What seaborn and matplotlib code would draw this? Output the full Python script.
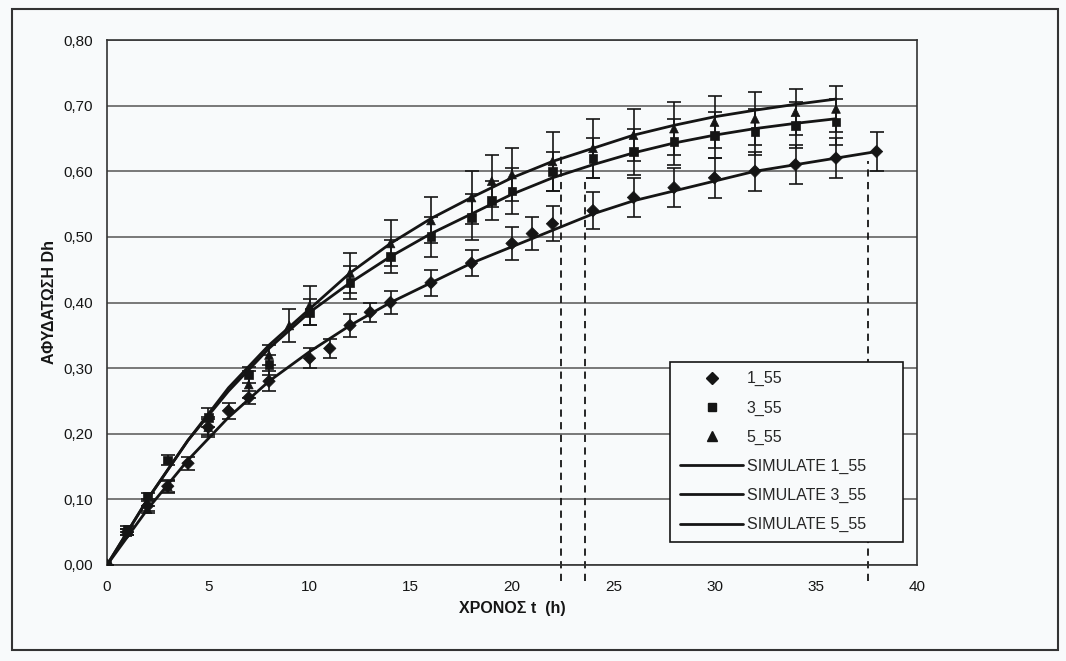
import numpy as np
import pandas as pd
import matplotlib
matplotlib.use("Agg")
import matplotlib.pyplot as plt
from matplotlib.lines import Line2D
from matplotlib.patches import Rectangle
from matplotlib.ticker import FuncFormatter, MultipleLocator
import seaborn as sns

# ---------------- data ----------------
t1 = [0, 1, 2, 3, 4, 5, 6, 7, 8, 10, 11, 12, 13, 14, 16, 18, 20, 21, 22, 24, 26, 28, 30, 32, 34, 36, 38]
d1 = [0, 0.05, 0.09, 0.12, 0.155, 0.21, 0.235, 0.255, 0.28, 0.315, 0.33, 0.365, 0.385, 0.40, 0.43, 0.46,
      0.49, 0.505, 0.52, 0.54, 0.56, 0.575, 0.59, 0.60, 0.61, 0.62, 0.63]
e1 = [0, 0.005, 0.008, 0.01, 0.01, 0.012, 0.012, 0.01, 0.015, 0.015, 0.015, 0.018, 0.015, 0.018, 0.02, 0.02,
      0.025, 0.025, 0.027, 0.028, 0.03, 0.03, 0.03, 0.03, 0.03, 0.03, 0.03]

t3 = [0, 1, 2, 3, 5, 7, 8, 10, 12, 14, 16, 18, 19, 20, 22, 24, 26, 28, 30, 32, 34, 36]
d3 = [0, 0.055, 0.105, 0.16, 0.225, 0.29, 0.305, 0.385, 0.43, 0.47, 0.50, 0.53, 0.555, 0.57, 0.60, 0.62,
      0.63, 0.645, 0.655, 0.66, 0.67, 0.675]
e3 = [0, 0.005, 0.005, 0.008, 0.015, 0.012, 0.015, 0.02, 0.025, 0.025, 0.03, 0.035, 0.03, 0.035, 0.03, 0.03,
      0.035, 0.035, 0.035, 0.035, 0.035, 0.035]

t5 = [0, 1, 2, 3, 5, 7, 8, 9, 10, 12, 14, 16, 18, 19, 20, 22, 24, 26, 28, 30, 32, 34, 36]
d5 = [0, 0.05, 0.085, 0.12, 0.21, 0.275, 0.32, 0.365, 0.395, 0.445, 0.49, 0.525, 0.56, 0.585, 0.595, 0.615,
      0.635, 0.655, 0.665, 0.675, 0.68, 0.69, 0.695]
e5 = [0, 0.005, 0.005, 0.008, 0.015, 0.02, 0.015, 0.025, 0.03, 0.03, 0.035, 0.035, 0.04, 0.04, 0.04, 0.045,
      0.045, 0.04, 0.04, 0.04, 0.04, 0.035, 0.035]

ts1 = [0, 2, 4, 6, 8, 10, 12, 14, 16, 18, 20, 22, 24, 26, 28, 30, 32, 34, 36, 38]
s1 = [0, 0.085, 0.16, 0.225, 0.28, 0.325, 0.365, 0.40, 0.43, 0.46, 0.485, 0.51, 0.535, 0.555, 0.57,
      0.585, 0.60, 0.61, 0.62, 0.63]
ts3 = [0, 2, 4, 6, 8, 10, 12, 14, 16, 18, 20, 22, 24, 26, 28, 30, 32, 34, 36]
s3 = [0, 0.10, 0.19, 0.265, 0.33, 0.385, 0.43, 0.47, 0.505, 0.535, 0.565, 0.59, 0.61, 0.628, 0.643,
      0.655, 0.665, 0.673, 0.68]
ts5 = [0, 2, 4, 6, 8, 10, 12, 14, 16, 18, 20, 22, 24, 26, 28, 30, 32, 34, 36]
s5 = [0, 0.10, 0.19, 0.27, 0.335, 0.39, 0.445, 0.49, 0.528, 0.56, 0.59, 0.615, 0.635, 0.655, 0.67,
      0.683, 0.693, 0.702, 0.71]

dash_t = [22.4, 23.6, 37.6]
dash_top = [0.625, 0.585, 0.615]
dash_bottom = -0.025

xticks = [0, 5, 10, 15, 20, 25, 30, 35, 40]
yticks = [0.0, 0.1, 0.2, 0.3, 0.4, 0.5, 0.6, 0.7, 0.8]

series_names = ["1_55", "3_55", "5_55"]
sim_names = ["SIMULATE 1_55", "SIMULATE 3_55", "SIMULATE 5_55"]

# ---------------- style ----------------
sns.set_style("white")
plt.rcParams['font.family'] = ['Liberation Sans', 'DejaVu Sans']
BG = "#f8fafb"
INK = "#151515"

fig = plt.figure(figsize=(10.66, 6.61), dpi=100, facecolor=BG)
ax = fig.add_axes([107/1066, 1-565/661, (917-107)/1066, (565-40)/661])
ax.set_facecolor(BG)

# simulated curves
sim = pd.concat([
    pd.DataFrame({"t": ts1, "D": s1, "name": sim_names[0]}),
    pd.DataFrame({"t": ts3, "D": s3, "name": sim_names[1]}),
    pd.DataFrame({"t": ts5, "D": s5, "name": sim_names[2]}),
])
sns.lineplot(data=sim, x="t", y="D", units="name", estimator=None, color=INK, lw=2.0,
             ax=ax, legend=False, zorder=3)

# error bars
for tt, dd, ee in [(t1, d1, e1), (t3, d3, e3), (t5, d5, e5)]:
    ax.errorbar(tt, dd, yerr=ee, fmt="none", ecolor=INK, elinewidth=1.2, capsize=5,
                capthick=1.2, zorder=4)

# measured points
meas = pd.concat([
    pd.DataFrame({"t": t1, "D": d1, "s": series_names[0]}),
    pd.DataFrame({"t": t3, "D": d3, "s": series_names[1]}),
    pd.DataFrame({"t": t5, "D": d5, "s": series_names[2]}),
])
sns.scatterplot(data=meas, x="t", y="D", style="s",
                markers={"1_55": "D", "3_55": "s", "5_55": "^"},
                s=40, color=INK, edgecolor=INK, linewidth=0.5,
                ax=ax, legend=False, zorder=5)

# dashed verticals
for xt, yt in zip(dash_t, dash_top):
    ax.plot([xt, xt], [dash_bottom, yt], color=INK, lw=1.3, ls=(0, (4, 3)),
            clip_on=False, zorder=2)

# axes
ax.set_xlim(0, 40)
ax.set_ylim(0, 0.80)
ax.set_xticks(xticks)
ax.set_yticks(yticks)
ax.yaxis.set_major_formatter(FuncFormatter(lambda v, p: f"{v:.2f}".replace(".", ",")))
ax.xaxis.set_major_formatter(FuncFormatter(lambda v, p: f"{v:.0f}"))
ax.grid(axis="y", color="#555555", lw=1.1)
ax.grid(axis="x", visible=False)
ax.set_axisbelow(True)
for sp in ax.spines.values():
    sp.set_color("#333333")
    sp.set_linewidth(1.2)
ax.tick_params(axis="both", direction="out", length=5, width=1, color="#333333",
               labelsize=11, labelcolor=INK, pad=5)
ax.tick_params(axis="x", direction="inout", length=8, pad=7)
ax.set_xlabel("ΧΡΟΝΟΣ t  (h)", fontsize=11.5, fontweight="bold", color=INK, labelpad=5)
ax.set_ylabel("ΑΦΥΔΑΤΩΣΗ Dh", fontsize=11.5, fontweight="bold", color=INK, labelpad=5)

# legend
handles = [
    Line2D([], [], ls="none", marker="D", ms=6, color=INK),
    Line2D([], [], ls="none", marker="s", ms=6, color=INK),
    Line2D([], [], ls="none", marker="^", ms=7, color=INK),
    Line2D([], [], color=INK, lw=2),
    Line2D([], [], color=INK, lw=2),
    Line2D([], [], color=INK, lw=2),
]
leg = ax.legend(handles, series_names + sim_names, loc="lower left",
                bbox_to_anchor=(563/810, 23/525, 233/810, 0.3), mode="expand",
                fontsize=11.5, frameon=True, fancybox=False,
                framealpha=1, facecolor=BG, edgecolor=INK, labelspacing=0.88,
                handlelength=4.0, handletextpad=0.2, borderpad=0.6, borderaxespad=0)
leg.get_frame().set_linewidth(1.2)

# outer frame of the figure
fig.patches.append(Rectangle((12/1066, 1-650/661), (1058-12)/1066, (650-9)/661,
                             transform=fig.transFigure, fill=False, ec="#333333", lw=1.5))

fig.savefig("out.png", dpi=100, facecolor=BG)
